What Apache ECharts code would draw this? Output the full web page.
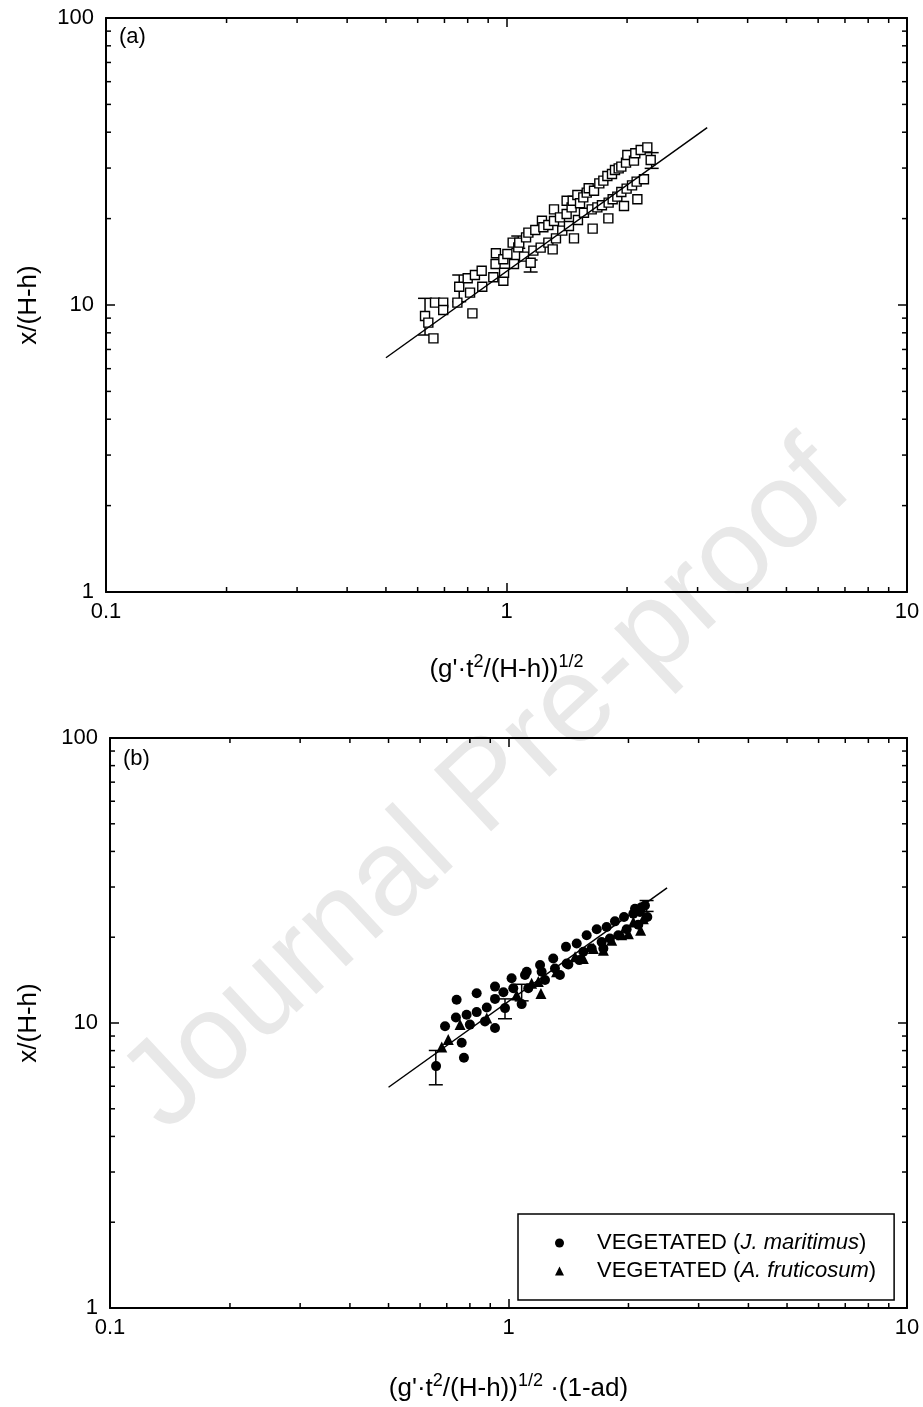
<!DOCTYPE html>
<html>
<head>
<meta charset="utf-8">
<script src="https://cdn.jsdelivr.net/npm/echarts@6/dist/echarts.min.js"></script>
<style>
  html, body { margin: 0; padding: 0; background: #fff; }
  #chart { width: 923px; height: 1407px; }
</style>
</head>
<body>
<div id="chart"></div>
<script>
// ---- panel (a) data: [x, y]
const squaresA = [
  [0.626, 9.16], [0.638, 8.68], [0.657, 7.65], [0.663, 10.19], [0.695, 10.19], [0.695, 9.61],
  [0.754, 10.19], [0.762, 11.58], [0.800, 12.39], [0.834, 12.72], [0.867, 13.17], [0.811, 11.04],
  [0.822, 9.35], [0.870, 11.58], [0.927, 12.49], [0.939, 13.90], [0.941, 15.14], [0.982, 12.15],
  [0.986, 12.96], [0.982, 14.43], [1.005, 15.06], [1.044, 13.90], [1.036, 16.49], [1.070, 15.88],
  [1.076, 16.49], [1.106, 14.74], [1.119, 17.21], [1.134, 17.87], [1.149, 14.04], [1.167, 15.47],
  [1.180, 18.25], [1.217, 15.84], [1.226, 19.67], [1.236, 18.65], [1.272, 19.00], [1.272, 16.49],
  [1.304, 15.63], [1.314, 19.62], [1.314, 21.54], [1.329, 17.07], [1.360, 20.20], [1.378, 18.16],
  [1.413, 20.76], [1.413, 23.09], [1.432, 18.85], [1.454, 21.89], [1.474, 17.07], [1.463, 23.09],
  [1.503, 24.17], [1.508, 19.78], [1.526, 22.61], [1.555, 23.72], [1.561, 20.97], [1.586, 24.63],
  [1.604, 25.50], [1.632, 21.54], [1.641, 18.45], [1.654, 25.02], [1.705, 26.54], [1.686, 21.89],
  [1.731, 22.25], [1.745, 27.12], [1.796, 20.04], [1.786, 28.15], [1.799, 22.73], [1.834, 28.60],
  [1.841, 23.35], [1.866, 29.53], [1.891, 23.85], [1.906, 29.93], [1.935, 30.34], [1.935, 24.76],
  [1.965, 22.13], [1.988, 31.33], [1.995, 25.43], [2.003, 33.31], [2.058, 26.12], [2.081, 31.84],
  [2.097, 33.77], [2.113, 26.90], [2.122, 23.35], [2.163, 34.68], [2.204, 27.41], [2.247, 35.43],
  [2.291, 32.01]
];
// [x, low, high]
const errorBarsA = [
  [0.626, 7.86, 10.55], [0.762, 10.27, 12.72], [1.070, 15.76, 17.39],
  [1.149, 13.03, 14.35], [2.304, 29.93, 33.95]
];
const fitA = [[0.5, 6.55], [3.17, 41.5]];

// ---- panel (b) data
const nameJ = 'VEGETATED (J. maritimus)';
const nameA = 'VEGETATED (A. fruticosum)';
const circlesB = [
  [0.658, 7.06], [0.693, 9.74], [0.741, 12.06], [0.738, 10.46], [0.763, 8.52], [0.773, 7.55],
  [0.785, 10.69], [0.800, 9.87], [0.832, 12.72], [0.832, 10.92], [0.873, 10.13], [0.882, 11.34],
  [0.925, 13.42], [0.925, 12.15], [0.925, 9.61], [0.971, 12.82], [0.980, 11.28], [1.018, 14.35],
  [1.028, 13.24], [1.079, 11.65], [1.100, 14.74], [1.111, 15.14], [1.121, 13.24], [1.200, 15.97],
  [1.211, 15.14], [1.235, 14.16], [1.295, 16.85], [1.308, 15.54], [1.346, 14.74], [1.394, 18.50],
  [1.413, 16.05], [1.483, 19.00], [1.506, 16.62], [1.571, 20.32], [1.617, 18.25], [1.665, 21.32],
  [1.713, 19.25], [1.763, 21.72], [1.797, 19.78], [1.850, 22.73], [1.886, 20.32], [1.949, 23.53],
  [1.979, 21.32], [2.057, 24.17], [2.077, 25.16], [2.117, 22.13], [2.158, 25.50], [2.200, 25.84],
  [2.230, 23.53], [2.138, 24.50], [1.400, 16.18], [1.541, 17.77], [1.730, 18.25]
];
const trianglesB = [
  [0.680, 8.23], [0.706, 8.75], [0.756, 9.87], [0.882, 10.41], [1.048, 12.55], [1.143, 13.78],
  [1.206, 12.69], [1.188, 13.97], [1.320, 15.14], [1.469, 17.07], [1.541, 16.85], [1.633, 18.25],
  [1.730, 18.01], [1.815, 19.52], [1.923, 20.42], [1.999, 20.58], [2.146, 21.14], [2.057, 22.61],
  [2.179, 23.22]
];
const errorBarsB = [
  [0.657, 6.07, 8.01], [0.980, 10.35, 12.15], [1.079, 11.96, 13.67], [2.221, 24.63, 26.90]
];
const fitB = [[0.5, 5.95], [2.5, 29.8]];

// minor tick values (both panels)
const xMinorTicks = [0.2, 0.3, 0.4, 0.5, 0.6, 0.7, 0.8, 0.9, 2, 3, 4, 5, 6, 7, 8, 9];
const yMinorTicks = [2, 3, 4, 5, 6, 7, 8, 9, 20, 30, 40, 50, 60, 70, 80, 90];

const FONT = "'Liberation Sans', Arial, Helvetica, sans-serif";
const chart = echarts.init(document.getElementById('chart'), null, { renderer: 'canvas' });

const titleStyle = {
  fontSize: 26, lineHeight: 34, color: '#000', fontFamily: FONT,
  rich: { sup: { fontSize: 18, lineHeight: 18, verticalAlign: 'top', color: '#000', fontFamily: FONT } }
};

function xAxisFor(gridIndex, position, name, gap) {
  const main = position === 'bottom';
  return {
    type: 'log', logBase: 10, min: 0.1, max: 10, gridIndex, position,
    name: main ? name : '', nameLocation: 'middle', nameGap: gap || 0,
    nameTextStyle: titleStyle,
    axisLine: { show: true, onZero: false, lineStyle: { color: '#000', width: 2 } },
    axisTick: { show: true, inside: true, length: 9, lineStyle: { color: '#000', width: 1.5 } },
    axisLabel: { show: main, margin: 9, fontSize: 22, color: '#000', fontFamily: FONT },
    splitLine: { show: false }
  };
}

function yAxisFor(gridIndex, position, gap) {
  const main = position === 'left';
  return {
    type: 'log', logBase: 10, min: 1, max: 100, gridIndex, position,
    name: main ? 'x/(H-h)' : '', nameLocation: 'middle', nameGap: gap,
    nameTextStyle: { fontSize: 26, lineHeight: 30, color: '#000', fontFamily: FONT },
    axisLine: { show: true, onZero: false, lineStyle: { color: '#000', width: 2 } },
    axisTick: { show: true, inside: true, length: 9, lineStyle: { color: '#000', width: 1.5 } },
    axisLabel: { show: main, margin: 12, fontSize: 22, color: '#000', fontFamily: FONT },
    splitLine: { show: false }
  };
}

// minor ticks on all four sides, placed through the axes' own scales
function minorTicks(axisIndex) {
  const data = xMinorTicks.map(v => [v, 1, 0]).concat(yMinorTicks.map(v => [0.1, v, 1]));
  return {
    type: 'custom', xAxisIndex: axisIndex, yAxisIndex: axisIndex, silent: true, z: 5,
    data,
    renderItem(params, api) {
      const style = { stroke: '#000', lineWidth: 1.5 };
      const v = api.value(2) === 0 ? api.value(0) : api.value(1);
      if (api.value(2) === 0) {
        const b = api.coord([v, 1]);
        const t = api.coord([v, 100]);
        return { type: 'group', children: [
          { type: 'line', shape: { x1: b[0], y1: b[1], x2: b[0], y2: b[1] - 5 }, style },
          { type: 'line', shape: { x1: t[0], y1: t[1], x2: t[0], y2: t[1] + 5 }, style }
        ] };
      }
      const l = api.coord([0.1, v]);
      const r = api.coord([10, v]);
      return { type: 'group', children: [
        { type: 'line', shape: { x1: l[0], y1: l[1], x2: l[0] + 5, y2: l[1] }, style },
        { type: 'line', shape: { x1: r[0], y1: r[1], x2: r[0] - 5, y2: r[1] }, style }
      ] };
    }
  };
}

function errorBars(data, axisIndex) {
  return {
    type: 'custom', xAxisIndex: axisIndex, yAxisIndex: axisIndex, silent: true, z: 3,
    data,
    encode: { x: 0, y: [1, 2] },
    renderItem(params, api) {
      const hi = api.coord([api.value(0), api.value(2)]);
      const lo = api.coord([api.value(0), api.value(1)]);
      const w = 7;
      const style = { stroke: '#000', lineWidth: 1.5 };
      return { type: 'group', children: [
        { type: 'line', shape: { x1: hi[0], y1: hi[1], x2: lo[0], y2: lo[1] }, style },
        { type: 'line', shape: { x1: hi[0] - w, y1: hi[1], x2: hi[0] + w, y2: hi[1] }, style },
        { type: 'line', shape: { x1: lo[0] - w, y1: lo[1], x2: lo[0] + w, y2: lo[1] }, style }
      ] };
    }
  };
}

function fitLine(data, axisIndex) {
  return {
    type: 'line', xAxisIndex: axisIndex, yAxisIndex: axisIndex, data,
    symbol: 'none', silent: true, z: 6,
    lineStyle: { color: '#000', width: 1.5 }
  };
}

chart.setOption({
  animation: false,
  backgroundColor: '#fff',
  grid: [
    { left: 106, top: 18, width: 801, height: 574 },
    { left: 110, top: 738, width: 797, height: 574 }
  ],
  xAxis: [
    xAxisFor(0, 'bottom', "(g'·t{sup|2}/(H-h)){sup|1/2}", 61),
    xAxisFor(0, 'top'),
    xAxisFor(1, 'bottom', "(g'·t{sup|2}/(H-h)){sup|1/2} ·(1-ad)", 64),
    xAxisFor(1, 'top')
  ],
  yAxis: [
    yAxisFor(0, 'left', 62),
    yAxisFor(0, 'right', 0),
    yAxisFor(1, 'left', 66),
    yAxisFor(1, 'right', 0)
  ],
  legend: {
    orient: 'vertical', left: 518, top: 1214,
    data: [{ name: nameJ, icon: 'circle' }, { name: nameA, icon: 'triangle' }],
    itemWidth: 9, itemHeight: 9, itemGap: 6,
    padding: [18, 18, 18, 37],
    borderColor: '#000', borderWidth: 1.5, backgroundColor: '#fff',
    selectedMode: false,
    formatter: name => name.replace(/\((.*)\)/, '({i|$1})'),
    textStyle: {
      fontSize: 22, lineHeight: 22, color: '#000', fontFamily: FONT, padding: [0, 0, 0, 28],
      rich: { i: { fontSize: 22, lineHeight: 22, fontStyle: 'italic', color: '#000', fontFamily: FONT } }
    }
  },
  graphic: [
    {
      type: 'text', x: 488, y: 788, rotation: 0.75, z: -10, silent: true,
      style: { text: 'Journal Pre-proof', fontSize: 122, fontFamily: FONT, fill: '#e8e8e8',
               align: 'center', verticalAlign: 'middle' }
    },
    { type: 'text', left: 119, top: 26, style: { text: '(a)', fontSize: 22, fontFamily: FONT, fill: '#000' } },
    { type: 'text', left: 123, top: 748, style: { text: '(b)', fontSize: 22, fontFamily: FONT, fill: '#000' } }
  ],
  series: [
    minorTicks(0),
    errorBars(errorBarsA, 0),
    {
      type: 'scatter', xAxisIndex: 0, yAxisIndex: 0, data: squaresA, z: 4,
      symbol: 'rect', symbolSize: 9,
      itemStyle: { color: '#fff', borderColor: '#000', borderWidth: 1.4, opacity: 1 }
    },
    fitLine(fitA, 0),

    minorTicks(2),
    errorBars(errorBarsB, 2),
    {
      name: nameJ, type: 'scatter', xAxisIndex: 2, yAxisIndex: 2, data: circlesB, z: 4,
      symbol: 'circle', symbolSize: 10, itemStyle: { color: '#000', opacity: 1 }
    },
    {
      name: nameA, type: 'scatter', xAxisIndex: 2, yAxisIndex: 2, data: trianglesB, z: 4,
      symbol: 'triangle', symbolSize: 11, itemStyle: { color: '#000', opacity: 1 }
    },
    fitLine(fitB, 2)
  ]
});
</script>
</body>
</html>
